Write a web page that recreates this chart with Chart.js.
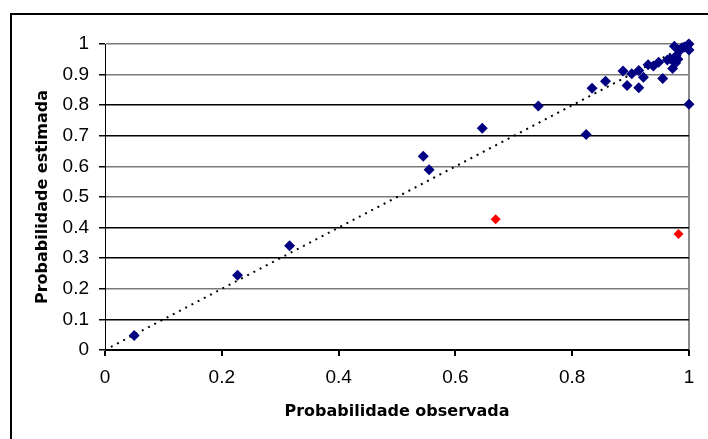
<!DOCTYPE html>
<html>
<head>
<meta charset="utf-8">
<script src="https://cdn.jsdelivr.net/npm/chart.js@4/dist/chart.umd.min.js"></script>
<style>
  html, body { margin: 0; padding: 0; background: #fff; overflow: hidden; }
  #wrap { position: relative; width: 708px; height: 439px; }
  #frame { position: absolute; left: 10px; top: 13px; width: 720px; height: 460px; border: 2px solid #000; box-sizing: border-box; pointer-events: none; }
  canvas { position: absolute; left: 0; top: 0; }
</style>
</head>
<body>
<div id="wrap">
  <canvas id="calibChart" width="708" height="439"></canvas>
  <div id="frame"></div>
</div>
<script>
// observed vs estimated probability
const obsX = [0.05, 0.227, 0.316, 0.545, 0.555, 0.646, 0.742, 0.824, 0.834, 0.857,
              0.887, 0.894, 0.902, 0.914, 0.914, 0.922, 0.930, 0.939, 0.948, 0.955,
              0.963, 0.968, 0.972, 0.975, 0.977, 0.978, 0.981, 0.984, 0.988, 0.992,
              0.998, 1.0, 1.0, 1.0];
const estY = [0.047, 0.244, 0.341, 0.633, 0.589, 0.725, 0.797, 0.704, 0.855, 0.878,
              0.912, 0.864, 0.903, 0.857, 0.913, 0.891, 0.932, 0.928, 0.940, 0.887,
              0.948, 0.952, 0.920, 0.993, 0.938, 0.962, 0.950, 0.978, 0.988, 0.990,
              0.997, 1.0, 0.980, 0.803];

// outliers (red)
const outX = [0.669, 0.982];
const outY = [0.427, 0.379];

// dotted reference line
const lineX = [0.01, 1.0];
const lineY = [0.01, 1.0];

const xTicks = [0, 0.2, 0.4, 0.6, 0.8, 1];
const yGray = [1, 0.9, 0.6, 0.5, 0.2];

function toPoints(xs, ys) {
    return xs.map((x, i) => ({ x: x, y: ys[i] }));
}

function fmt(v) {
    return String(Math.round(v * 10) / 10);
}

Chart.defaults.color = '#000';
Chart.defaults.font.family = '"Liberation Sans", Arial, sans-serif';

const ctx = document.getElementById('calibChart').getContext('2d');
new Chart(ctx, {
    type: 'scatter',
    data: {
        datasets: [
            {
                label: 'estimada',
                data: toPoints(obsX, estY),
                pointStyle: 'rectRot',
                pointRadius: 5.5,
                pointBackgroundColor: '#000080',
                pointBorderColor: '#000080',
                pointBorderWidth: 0,
                clip: false,
                order: 1,
            },
            {
                label: 'outliers',
                data: toPoints(outX, outY),
                pointStyle: 'rectRot',
                pointRadius: 5,
                pointBackgroundColor: '#ff0000',
                pointBorderColor: '#ff0000',
                pointBorderWidth: 0,
                clip: false,
                order: 1,
            },
            {
                type: 'line',
                label: 'linha',
                data: toPoints(lineX, lineY),
                borderColor: '#000',
                borderWidth: 2,
                borderDash: [2, 5],
                pointRadius: 0,
                fill: false,
                order: 2,
            },
        ],
    },
    options: {
        responsive: false,
        animation: false,
        devicePixelRatio: 1,
        layout: { padding: { left: 25, right: 19, top: 44, bottom: 10 } },
        plugins: {
            legend: { display: false },
            tooltip: { enabled: false },
        },
        scales: {
            x: {
                type: 'linear',
                min: 0,
                max: 1,
                afterFit: scale => { scale.height = 79; },
                afterBuildTicks: scale => { scale.ticks = xTicks.map(v => ({ value: v })); },
                border: { color: '#000', width: 1 },
                grid: {
                    color: c => (c.tick && c.tick.value === 1 ? '#8c8c8c' : 'rgba(0,0,0,0)'),
                    tickColor: '#000',
                    tickLength: 6,
                    lineWidth: 2,
                },
                ticks: {
                    font: { size: 19 },
                    padding: 10,
                    maxRotation: 0,
                    callback: fmt,
                },
                title: {
                    display: true,
                    text: 'Probabilidade observada',
                    font: { family: '"DejaVu Sans", sans-serif', size: 16, weight: 'bold' },
                    padding: { top: 0, bottom: 8 },
                },
            },
            y: {
                type: 'linear',
                min: 0,
                max: 1,
                afterFit: scale => { scale.width = 80; },
                border: { color: '#000', width: 1 },
                grid: {
                    color: c => (c.tick && yGray.some(g => Math.abs(g - c.tick.value) < 1e-6) ? '#7a7a7a' : '#000'),
                    tickColor: '#000',
                    tickLength: 6,
                    lineWidth: 1.5,
                },
                ticks: {
                    stepSize: 0.1,
                    font: { size: 19 },
                    padding: 10,
                    callback: fmt,
                },
                title: {
                    display: true,
                    text: 'Probabilidade estimada',
                    font: { family: '"DejaVu Sans", sans-serif', size: 16, weight: 'bold' },
                    padding: { top: 8, bottom: 0 },
                },
            },
        },
    },
});
</script>
</body>
</html>
